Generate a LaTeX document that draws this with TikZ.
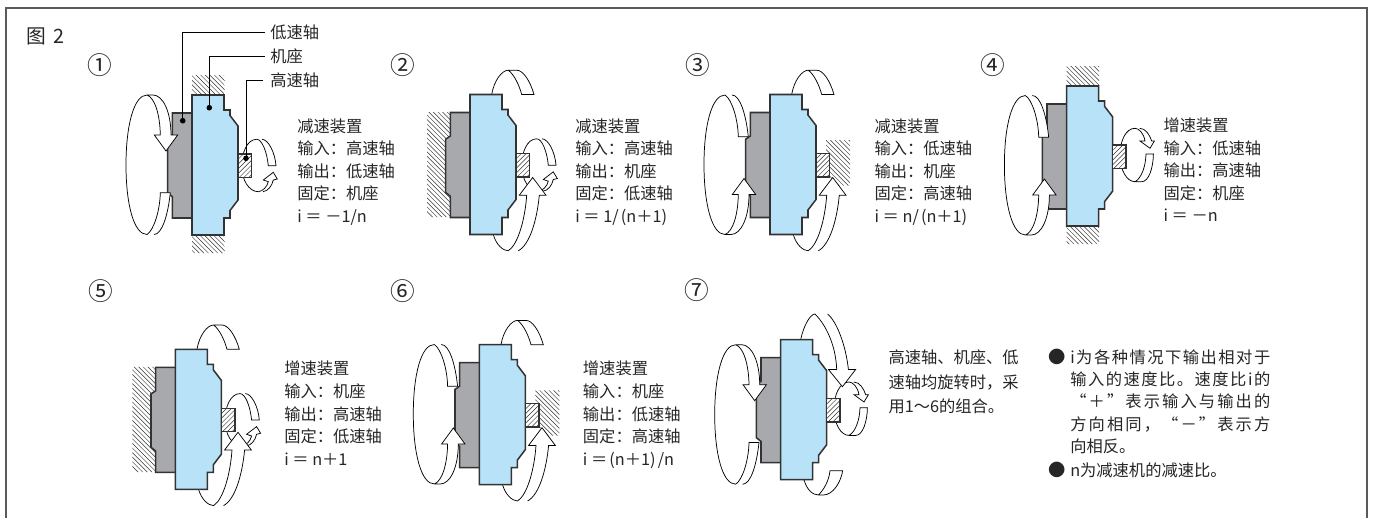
\documentclass[tikz,border=0pt]{standalone}
\usepackage{fontspec}
\setmainfont{Noto Sans CJK SC}
\definecolor{bluebody}{HTML}{B8E2F8}
\definecolor{graybody}{HTML}{A7A9AC}
\definecolor{inkc}{HTML}{333333}
\definecolor{framec}{HTML}{5A5A5A}
\tikzset{
  outline/.style={draw=inkc,line width=1.15pt,line join=miter},
  arrowline/.style={draw=black,line width=0.55pt,fill=white,line join=miter},
  arcline/.style={draw=black,line width=0.55pt},
  hatchline/.style={draw=black!80,line width=0.36pt},
  leader/.style={draw=black,line width=0.6pt},
  bodytext/.style={font=\fontsize{12.2}{15}\selectfont,text=black!85,inner sep=0pt,anchor=base west},
  numtext/.style={font=\fontsize{18.5}{19}\selectfont,text=black!85,inner sep=0pt,anchor=center},
}
\newcommand{\wallhatch}{\foreach \h in {-200,-195.4,...,200}{\draw[hatchline] (\h,-40) -- (\h+220,180);}}
\newcommand{\mechbody}{%
  \fill[graybody] (0,18) -- (-19.7,18) -- (-19.7,41.5) -- (-24.3,44.7) -- (-24.3,98) -- (-19.7,101.7) -- (-19.7,123) -- (0,123) -- cycle;
  \draw[outline] (0,18) -- (-19.7,18) -- (-19.7,41.5) -- (-24.3,44.7) -- (-24.3,98) -- (-19.7,101.7) -- (-19.7,123) -- (0,123);
  \path[outline,fill=bluebody] (0,0) -- (32,0) -- (32,15) -- (38,15) -- (38,20.5) -- (46,31) -- (46,105) -- (38,115.5) -- (38,123) -- (32,123) -- (32,140) -- (0,140) -- cycle;
}
\newcommand{\shaftbox}{%
  \fill[white] (46,59) rectangle (59.5,82.3);
  \begin{scope}
    \clip (46,59) rectangle (59.5,82.3);
    \foreach \h in {46,50.8,...,110}{\draw[hatchline] (\h,50) -- (\h-40,90);}
  \end{scope}
  \draw[outline] (46,59) rectangle (59.5,82.3);
}
\newcommand{\wallends}{%
  \begin{scope}\clip (0,-20) rectangle (32.5,0) (0,140) rectangle (32.5,158);\wallhatch\end{scope}}
\newcommand{\wallleft}{%
  \begin{scope}\clip (-43,17.5) -- (-19.7,17.5) -- (-19.7,41.5) -- (-24.3,44.7) -- (-24.3,98) -- (-19.7,101.7) -- (-19.7,122.7) -- (-43,122.7) -- cycle;\wallhatch\end{scope}}
\newcommand{\wallright}{%
  \begin{scope}\clip (56,45.7) -- (80,45.7) -- (80,91) -- (66,91) -- (60,82) -- (60,59) -- (56,59) -- cycle;\wallhatch\end{scope}}
% big left arrow, head up
\newcommand{\bigup}{%
  \draw[arcline] (-45,0.5) .. controls (-58,0.5) and (-66,30) .. (-66,70) .. controls (-66,110) and (-58,140) .. (-45,140);
  \path[arrowline] (-45,0.5) .. controls (-38,5) and (-32,25) .. (-31.7,42.3) -- (-21.7,42.3) .. controls (-24,20) and (-30,0.5) .. (-38,0.5);
  \path[arrowline] (-45,140) .. controls (-37,137) and (-32,120) .. (-31.7,100) -- (-37.7,100) -- (-26,84) -- (-14.3,100) -- (-21,100) .. controls (-21,123) and (-29,140) .. (-39,140) -- (-45,140);
}
\newcommand{\bigdown}{\begin{scope}[shift={(0,140)},yscale=-1]\bigup\end{scope}}
% top open band
\newcommand{\toparc}{%
  \path[arrowline] (21.7,0) .. controls (24,-14) and (32,-24.3) .. (38.3,-24.3) .. controls (44,-20) and (49,-10) .. (51.7,0) -- (64,0) .. controls (60,-14) and (53,-24.3) .. (46.7,-24.3) -- (38.3,-24.3);
}
% bottom band with head up
\newcommand{\botarrow}{%
  \path[arrowline] (23.3,140) .. controls (26,150) and (33,156.3) .. (38.3,156.3) .. controls (48,150) and (55,125) .. (56.7,100.7) -- (49.3,100.7) -- (62.7,83) -- (76,100.7) -- (69.3,100.7) .. controls (67,125) and (60,150) .. (48.3,156.3);
}
% small shaft arrow, head upward
\newcommand{\smallup}{%
  \draw[arcline] (64.7,44.3) .. controls (55,44.3) and (49.7,58) .. (49.7,71) .. controls (49.7,85) and (57,96.7) .. (66.3,96.7);
  \path[arrowline] (64.7,44.3) .. controls (70,44.3) and (75,57) .. (76.3,70.7) -- (84,70.7) .. controls (83,57) and (76,44.3) .. (70,44.3);
  \path[arrowline] (66.3,96.7) .. controls (71,96) and (75,92) .. (76.3,86.7) -- (71.3,85) -- (81.3,77.3) -- (85.3,84) -- (81.3,85) .. controls (80,91) and (76,96) .. (71,96.7);
}
% small shaft arrow, head downward
\newcommand{\smalldown}{%
  \draw[arcline] (68.3,42.3) .. controls (59,42.3) and (53.3,55) .. (53.3,69) .. controls (53.3,84) and (60,95.7) .. (68.3,95.7);
  \path[arrowline] (68.3,42.3) .. controls (72,42.3) and (77,47) .. (78.3,55) -- (73.3,55) -- (83.3,62.3) -- (87.7,55) -- (85,55) .. controls (83,49) and (79,42.3) .. (73,42.3);
  \path[arrowline] (68.3,95.7) .. controls (75,92) and (79,80) .. (79.3,68) -- (86.7,68) .. controls (86.5,82) and (82,95.7) .. (75,95.7) -- (68.3,95.7);
}
\newcommand{\textlines}[4]{%
  \foreach \t [count=\k] in {#4}{%
    \pgfmathsetmacro{\yy}{#2+5.6+(\k-1)*#3}
    \node[bodytext] (line-#1-\k) at (#1,\yy) {\t};
  }}
\def\S{\hfil}
\def\LP{\kern1.6pt(}
\def\RP{)\kern1.6pt}
\begin{document}
\begin{tikzpicture}[x=0.75pt,y=-0.75pt]
\useasboundingbox (0,0) rectangle (1375,518);
\fill[white] (0,0) rectangle (1375,518);
\draw[draw=framec,line width=1.2pt] (6,518) -- (6,8) -- (1366.7,8) -- (1366.7,518);
\node[font=\fontsize{14.8}{16}\selectfont,text=black!85,inner sep=0pt,anchor=base west] (title) at (26,43.5) {图\kern6pt 2};

\node[numtext] (n1) at (100,65) {①};
\node[numtext] (n2) at (403.3,65) {②};
\node[numtext] (n3) at (698,65) {③};
\node[numtext] (n4) at (992.7,65) {④};
\node[numtext] (n5) at (101,290.7) {⑤};
\node[numtext] (n6) at (403.3,290.7) {⑥};
\node[numtext] (n7) at (697.3,290) {⑦};

% unit 1
\begin{scope}[shift={(192,95)}]
  \wallends \mechbody \smallup \shaftbox
  \bigdown
\end{scope}
% unit 2
\begin{scope}[shift={(470,94.5)}]
  \wallleft \mechbody \toparc
  \begin{scope}[shift={(2,0)}]\smallup\end{scope}
  \shaftbox \botarrow
\end{scope}
% unit 3
\begin{scope}[shift={(770,94.5)}]
  \wallright \mechbody \toparc \shaftbox \bigup \botarrow
\end{scope}
% unit 4
\begin{scope}[shift={(1066.7,86)}]
  \wallends \mechbody \smalldown \shaftbox
  \begin{scope}[shift={(3.7,9)}]\bigup\end{scope}
\end{scope}
% unit 5
\begin{scope}[shift={(175.3,349.3)}]
  \wallleft \mechbody \toparc \smallup \shaftbox \botarrow
\end{scope}
% unit 6
\begin{scope}[shift={(479.3,344.7)}]
  \wallright \mechbody \toparc \shaftbox
  \begin{scope}[shift={(0,-0.7)}]\bigup\end{scope}
  \botarrow
\end{scope}
% unit 7
\begin{scope}[shift={(780.7,339.7)}]
  \mechbody \smalldown \shaftbox
  \begin{scope}[shift={(0,5)}]\bigdown\end{scope}
  \path[arrowline] (20,0) .. controls (23,-15) and (30,-25.7) .. (34.3,-25.7) .. controls (45,-15) and (55,5) .. (56,29.7) -- (47.7,29.7) -- (61.7,47) -- (75,29.7) -- (67.7,29.7) .. controls (65,5) and (56,-18) .. (47,-25.7);
  \path[arrowline] (23.3,140) .. controls (26,150) and (32,155.3) .. (37.7,155.3) .. controls (43,150) and (48,142) .. (49.3,131) -- (62,131) .. controls (60,143) and (52,155.3) .. (42.7,155.3) -- (37.7,155.3);
\end{scope}

% leaders
\node[bodytext] (lowlabel) at (270,38) {低速轴};
\node[bodytext] (baselabel) at (270,62.3) {机座};
\node[bodytext] (highlabel) at (270,86) {高速轴};
\coordinate (lowdot) at (182.7,120.7);
\coordinate (basedot) at (209.3,107.7);
\coordinate (highdot) at (246,158.3);
\coordinate (lowend) at (265,32.3);
\coordinate (baseend) at (265,56.7);
\coordinate (highend) at (263,80);
\fill[black] (lowdot) circle (2.8) (basedot) circle (2.8) (highdot) circle (2.8);
\draw[leader] (lowdot) |- (lowend);
\draw[leader] (basedot) |- (baseend);
\draw[leader] (highdot) |- (highend);

% description blocks
\textlines{297}{126.7}{22.5}{减速装置,输入：高速轴,输出：低速轴,固定：机座,i ＝ －1/n}
\textlines{575}{126.7}{22.5}{减速装置,输入：高速轴,输出：机座,固定：低速轴,i ＝ 1/\LP n＋1\RP}
\textlines{874.3}{126.7}{22.5}{减速装置,输入：低速轴,输出：机座,固定：高速轴,i ＝ n/\LP n＋1\RP}
\textlines{1163.3}{126}{22.5}{增速装置,输入：低速轴,输出：高速轴,固定：机座,i ＝ －n}
\textlines{284}{369}{22.75}{增速装置,输入：机座,输出：高速轴,固定：低速轴,i ＝ n＋1}
\textlines{582.7}{369}{22.75}{增速装置,输入：机座,输出：低速轴,固定：高速轴,i ＝\LP n＋1\RP /n}
\textlines{888.3}{358.3}{24.4}{高速轴、机座、低,速轴均旋转时，采,用1～6的组合。}

% note
\node[bodytext,font=\fontsize{13}{15}\selectfont] (b1) at (1048,363.5) {●};
\node[bodytext,font=\fontsize{13}{15}\selectfont] (b2) at (1048,476.5) {●};
\node[bodytext] (note1) at (1070,363.3) {\hbox to 150pt{i\S 为\S 各\S 种\S 情\S 况\S 下\S 输\S 出\S 相\S 对\S 于}};
\node[bodytext] (note2) at (1070,385.6) {\hbox to 150pt{输\S 入\S 的\S 速\S 度\S 比\S 。\S 速\S 度\S 比\S i\S 的}};
\node[bodytext] (note3) at (1070,407.3) {\hbox to 150pt{“\S ＋\S ”\S 表\S 示\S 输\S 入\S 与\S 输\S 出\S 的}};
\node[bodytext] (note4) at (1070,430.6) {\hbox to 150pt{方\S 向\S 相\S 同\S ，\S “\S －\S ”\S 表\S 示\S 方}};
\node[bodytext] (note5) at (1070,452.3) {向相反。};
\node[bodytext] (note6) at (1070,476.3) {n为减速机的减速比。};
\end{tikzpicture}
\end{document}
